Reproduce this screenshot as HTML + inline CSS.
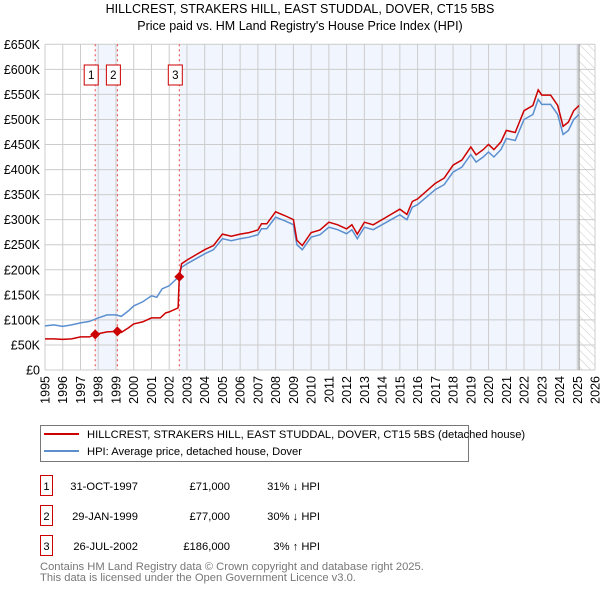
<!DOCTYPE html>
<html><head><meta charset="utf-8"><style>
body{margin:0;background:#fff;font-family:"Liberation Sans",sans-serif;}
svg text{font-family:"Liberation Sans","DejaVu Sans",sans-serif;}
</style></head><body>
<svg width="600" height="590" viewBox="0 0 600 590">
<defs><pattern id="hatch" width="6" height="6" patternUnits="userSpaceOnUse" patternTransform="rotate(-45)"><line x1="0" y1="0" x2="0" y2="6" stroke="#bbb" stroke-width="0.8"/></pattern></defs>
<text x="300" y="13" font-size="12.5" text-anchor="middle">HILLCREST, STRAKERS HILL, EAST STUDDAL, DOVER, CT15 5BS</text>
<text x="300" y="30" font-size="12.5" text-anchor="middle">Price paid vs. HM Land Registry's House Price Index (HPI)</text>
<g id="plot"></g>
<g id="legend">
<rect x="40.5" y="425.5" width="428" height="36" fill="#fff" stroke="#777"/>
<line x1="44" y1="434" x2="79" y2="434" stroke="#cc0000" stroke-width="2"/>
<text x="87" y="438" font-size="11.2">HILLCREST, STRAKERS HILL, EAST STUDDAL, DOVER, CT15 5BS (detached house)</text>
<line x1="44" y1="451" x2="79" y2="451" stroke="#5b8fd0" stroke-width="2"/>
<text x="87" y="455" font-size="11.2">HPI: Average price, detached house, Dover</text>
</g>
<g id="table" font-size="11.2"></g>
<text x="40" y="570" font-size="11.2" fill="#777">Contains HM Land Registry data © Crown copyright and database right 2025.</text>
<text x="40" y="581" font-size="11.2" fill="#777">This data is licensed under the Open Government Licence v3.0.</text>
</svg>
<script>
const hpiYears=[1995,1995.5,1996,1996.5,1997,1997.5,1998,1998.5,1999,1999.3,1999.7,2000,2000.5,2001,2001.3,2001.6,2002,2002.5,2002.7,2003,2003.5,2004,2004.5,2005,2005.5,2006,2006.5,2007,2007.2,2007.5,2008,2008.5,2009,2009.2,2009.5,2010,2010.5,2011,2011.5,2012,2012.3,2012.6,2013,2013.5,2014,2014.5,2015,2015.4,2015.7,2016,2016.5,2017,2017.5,2018,2018.5,2019,2019.3,2019.7,2020,2020.3,2020.7,2021,2021.5,2022,2022.5,2022.8,2023,2023.5,2023.9,2024.2,2024.5,2024.8,2025.1];
const hpiValues=[88,90,87,90,94,97,104,110,110,107,118,128,136,148,145,162,168,185,205,212,222,232,240,262,258,262,265,270,282,282,305,298,290,250,240,265,270,285,280,272,280,262,285,280,290,300,310,300,325,330,345,360,370,395,405,430,415,425,435,425,440,462,458,500,510,540,530,530,510,470,478,500,510];
const redPreYears=[1995,1995.5,1996,1996.5,1997,1997.5,1997.83,1998.5,1999.08,1999.3,1999.7,2000,2000.5,2001,2001.5,2001.8,2002,2002.5,2002.57];
const redPreValues=[62,62,61,62,66,66,71,76,77,75,84,92,96,104,104,114,116,124,186];
const redRatioAfter=1.035;
const saleDates=[1997.83,1999.08,2002.57];
const salePrices=[71,77,186];
const saleLabels=["1","2","3"];
const saleDateText=["31-OCT-1997","29-JAN-1999","26-JUL-2002"];
const salePriceText=["£71,000","£77,000","£186,000"];
const saleHpiText=["31% ↓ HPI","30% ↓ HPI","3% ↑ HPI"];
const yTicks=[0,50,100,150,200,250,300,350,400,450,500,550,600,650];
const yTickLabels=["£0","£50K","£100K","£150K","£200K","£250K","£300K","£350K","£400K","£450K","£500K","£550K","£600K","£650K"];
const xTicks=[1995,1996,1997,1998,1999,2000,2001,2002,2003,2004,2005,2006,2007,2008,2009,2010,2011,2012,2013,2014,2015,2016,2017,2018,2019,2020,2021,2022,2023,2024,2025,2026];

const NS="http://www.w3.org/2000/svg";
const X0=45,X1=595,Y0=370,Y1=44.3;
const xs=t=>X0+(t-1995)/(2026-1995)*(X1-X0);
const ys=v=>Y0-v/650*(Y0-Y1);
const plot=document.getElementById('plot');
function mk(tag,attrs,parent){const e=document.createElementNS(NS,tag);for(const k in attrs)e.setAttribute(k,attrs[k]);(parent||plot).appendChild(e);return e;}
let e;
e=mk('rect',{x:X0,y:Y1,width:X1-X0,height:Y0-Y1,fill:'#fff'});


e=mk('rect',{x:xs(saleDates[0]),y:Y1,width:xs(saleDates[1])-xs(saleDates[0]),height:Y0-Y1,fill:'#eef3fc',opacity:0.8});


e=mk('rect',{x:xs(saleDates[2]),y:Y1,width:xs(2025.1)-xs(saleDates[2]),height:Y0-Y1,fill:'#eef3fc',opacity:0.8});


e=mk('rect',{x:xs(2025.1),y:Y1,width:X1-xs(2025.1),height:Y0-Y1,fill:'url(#hatch)'});


xTicks.forEach(t=>{
 e=mk('line',{x1:xs(t),x2:xs(t),y1:Y1,y2:Y0,stroke:'#cccccc','stroke-width':1});
 
 
 e=mk('text',{x:0,y:0,'font-size':12.5,'text-anchor':'end',transform:`translate(${xs(t)+4.5},${Y0+6}) rotate(-90)`});
 e.textContent=t;
 
 
});
yTicks.forEach((v,i)=>{
 e=mk('line',{x1:X0,x2:X1,y1:ys(v),y2:ys(v),stroke:'#cccccc','stroke-width':1});
 
 
 e=mk('text',{x:40,y:ys(v)+4.5,'font-size':12.5,'text-anchor':'end'});
 e.textContent=yTickLabels[i];
 
 
});
e=mk('line',{x1:xs(2025.1),x2:xs(2025.1),y1:Y1,y2:Y0,stroke:'#888','stroke-width':1});


saleDates.forEach((d,i)=>{
 e=mk('line',{x1:xs(d),x2:xs(d),y1:Y1,y2:Y0,stroke:'#ee4444','stroke-width':1,'stroke-dasharray':'2,3'});
 
 
});
const hp=hpiYears.map((t,i)=>xs(t).toFixed(1)+','+ys(hpiValues[i]).toFixed(1)).join(' ');
e=mk('polyline',{points:hp,fill:'none',stroke:'#5b8fd0','stroke-width':1.5});


let rp=redPreYears.map((t,i)=>xs(t).toFixed(1)+','+ys(redPreValues[i]).toFixed(1));
hpiYears.forEach((t,i)=>{if(t>2002.57)rp.push(xs(t).toFixed(1)+','+ys(hpiValues[i]*redRatioAfter).toFixed(1));});
e=mk('polyline',{points:rp.join(' '),fill:'none',stroke:'#cc0000','stroke-width':1.5});


saleDates.forEach((d,i)=>{
 const cx=xs(d),cy=ys(salePrices[i]);
 e=mk('polygon',{points:`${cx},${cy-5} ${cx+5},${cy} ${cx},${cy+5} ${cx-5},${cy}`,fill:'#cc0000'});
 
 
 e=mk('rect',{x:cx-11,y:65,width:14,height:20,fill:'#fff',stroke:'#cc0000'});
 
 
 e=mk('text',{x:cx-4,y:79,'font-size':11.5,'text-anchor':'middle'});
 e.textContent=saleLabels[i];
 
 
});
const tbl=document.getElementById('table');
saleDates.forEach((d,i)=>{
 const y=475+i*30;
 e=mk('rect',{x:40.5,y:y+0.5,width:12,height:20,fill:'#fff',stroke:'#cc0000'},tbl);
 
 
 e=mk('text',{x:46.5,y:y+15,'text-anchor':'middle'},tbl);e.textContent=saleLabels[i];
 
 
 e=mk('text',{x:138,y:y+15,'text-anchor':'end'},tbl);e.textContent=saleDateText[i];
 
 
 e=mk('text',{x:230,y:y+15,'text-anchor':'end'},tbl);e.textContent=salePriceText[i];
 
 
 e=mk('text',{x:320,y:y+15,'text-anchor':'end'},tbl);e.textContent=saleHpiText[i];
 
 
});
</script>
</body></html>
